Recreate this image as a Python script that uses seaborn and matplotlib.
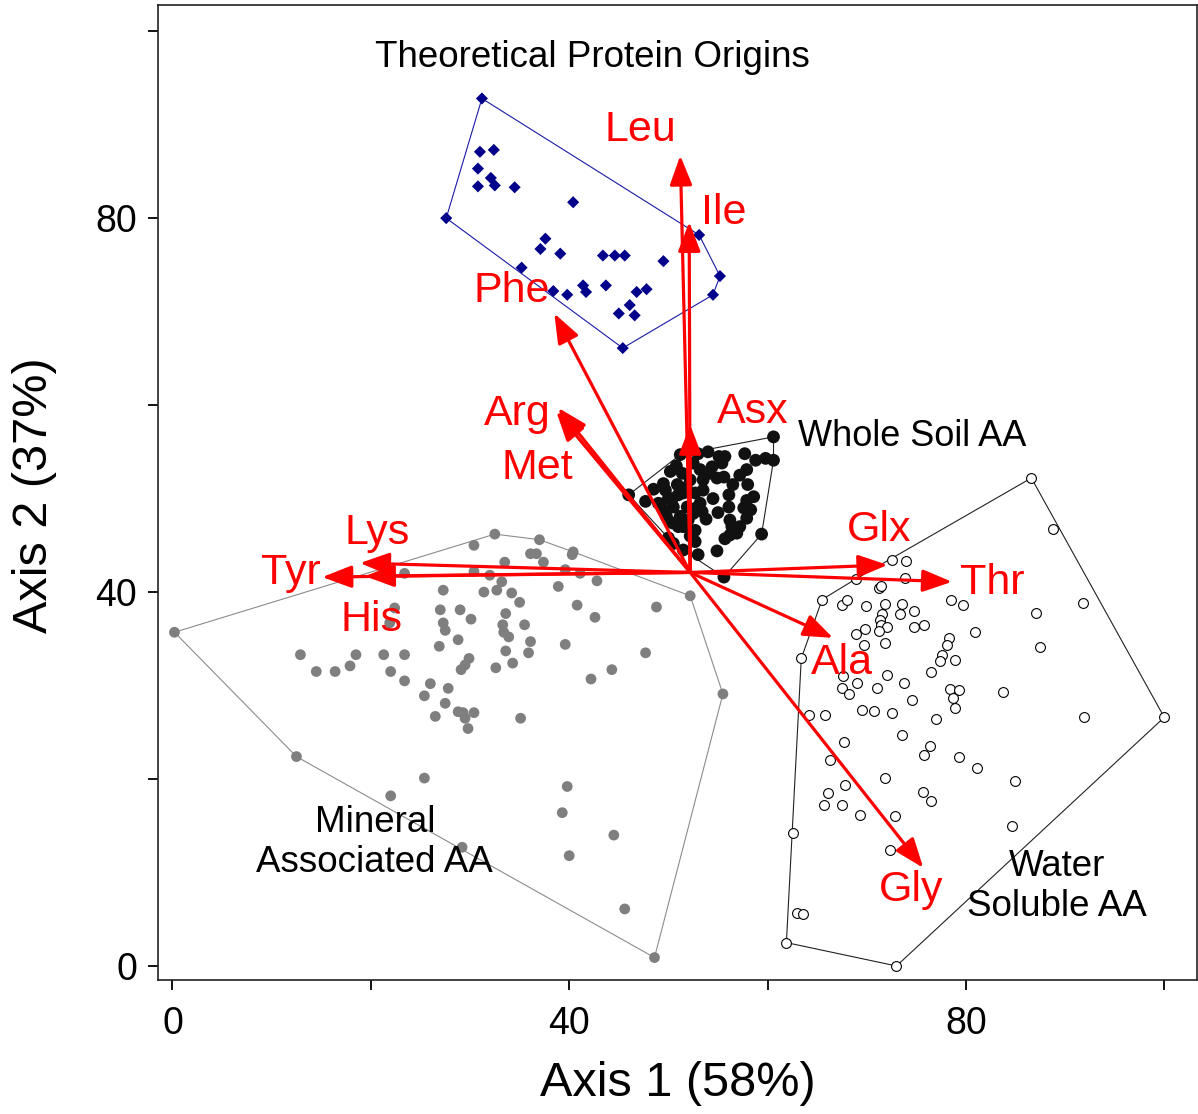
import matplotlib
matplotlib.use("Agg")
import matplotlib.pyplot as plt
import numpy as np
import pandas as pd
import seaborn as sns

# ---- sample scores on ordination axes 1 and 2 ----
theo_x = [31.2, 31.0, 32.4, 30.8, 30.8, 32.1, 32.5, 34.5, 40.4, 27.6, 37.6, 37.1, 39.1, 43.4,
          44.6, 45.6, 49.5, 53.1, 55.2, 54.5, 35.2, 38.4, 39.8, 41.4, 41.7, 43.7, 46.8, 47.8,
          46.1, 45.0, 46.6, 45.4]
theo_y = [92.8, 87.1, 87.3, 85.3, 83.4, 84.3, 83.5, 83.3, 81.7, 80.0, 77.8, 76.7, 76.2, 76.0,
          76.0, 76.0, 75.4, 78.2, 73.8, 71.8, 74.7, 72.2, 71.8, 72.8, 72.1, 72.8, 72.1, 72.4,
          70.7, 69.8, 69.6, 66.1]

soil_x = [51.2, 53.0, 55.1, 55.7, 57.7, 58.8, 59.8, 60.6, 60.6, 50.2, 51.4, 53.2, 54.4, 55.4,
          57.2, 57.9, 49.5, 50.9, 52.2, 53.5, 54.9, 55.6, 46.0, 47.7, 50.4, 51.5, 52.7, 53.5,
          56.1, 57.9, 58.6, 49.5, 50.5, 51.9, 53.2, 56.1, 57.6, 58.3, 49.8, 51.2, 52.5, 53.4,
          56.2, 57.9, 50.4, 51.5, 52.7, 56.4, 57.2, 56.2, 56.9, 59.4, 50.5, 52.7, 55.7, 54.9,
          55.6, 51.0, 49.7, 52.0, 54.1, 52.5, 50.0,
          50.8, 51.8, 52.8, 51.0, 52.2, 53.8, 54.5, 49.0, 48.5, 51.5, 53.0, 55.0, 54.0, 56.5,
          58.0, 50.0]
soil_y = [54.7, 54.8, 54.5, 54.5, 54.8, 54.1, 54.3, 54.1, 56.6, 52.9, 52.7, 53.1, 53.4, 53.8,
          52.5, 53.1, 51.6, 51.5, 52.0, 52.0, 52.2, 52.3, 50.4, 49.7, 50.0, 50.6, 50.6, 50.9,
          50.4, 49.8, 50.2, 48.8, 49.1, 49.1, 49.5, 49.1, 49.0, 48.8, 48.1, 48.1, 48.4, 48.6,
          47.7, 47.9, 47.4, 47.0, 46.6, 47.0, 47.0, 46.1, 46.3, 46.2, 45.2, 45.4, 45.7, 44.4,
          41.6, 50.4, 50.9, 47.7, 52.7, 53.8, 50.0,
          53.5, 51.2, 49.0, 47.0, 46.0, 47.8, 50.0, 49.5, 51.0, 44.5, 44.0, 48.5, 55.0, 51.5,
          51.5, 45.8]

mineral_x = [0.2, 12.5, 12.9, 14.5, 16.4, 17.9, 18.5, 21.3, 23.4, 22.0, 23.4, 22.4, 21.9, 23.4,
             27.3, 27.0, 27.3, 27.5, 26.9, 29.0, 28.8, 26.0, 27.8, 25.4, 27.5, 26.5, 28.8,
             32.5, 37.0, 30.4, 40.4, 40.3, 36.1, 36.7, 37.4, 33.5, 30.4, 32.0, 41.1, 42.8,
             39.6, 33.2, 32.7, 31.4, 34.2, 35.0, 38.9, 40.8, 48.8, 52.2, 30.1, 33.6, 42.6,
             33.3, 33.4, 33.9, 35.5, 36.1, 35.9, 33.6, 34.3, 39.6, 47.7, 29.9, 29.5, 29.1,
             32.6, 44.3, 42.2, 29.3, 30.4, 29.8, 29.5, 35.1, 55.5,
             25.4, 22.0, 29.2, 39.8, 39.3, 44.5, 40.0, 45.6, 48.6]
mineral_y = [35.7, 22.4, 33.3, 31.5, 31.5, 32.1, 33.3, 33.3, 33.3, 31.5, 30.5, 38.3, 36.7, 42.0,
             40.2, 38.1, 36.7, 35.9, 34.2, 38.1, 34.9, 30.2, 29.7, 28.9, 28.1, 26.7, 27.2,
             46.2, 45.6, 45.0, 44.3, 44.0, 44.1, 44.1, 43.2, 43.2, 42.2, 41.8, 42.0, 41.2,
             42.4, 41.1, 40.2, 40.0, 39.9, 38.9, 40.6, 38.6, 38.4, 39.6, 37.1, 37.7, 37.3,
             36.5, 35.7, 35.2, 36.5, 34.7, 33.5, 33.7, 32.4, 34.4, 33.5, 32.9, 32.2, 31.7,
             31.9, 31.7, 30.7, 27.1, 27.1, 25.4, 26.5, 26.5, 29.1,
             20.1, 18.2, 12.7, 19.2, 16.4, 14.0, 11.8, 6.1, 0.9]

water_x = [86.6, 88.8, 91.8, 100.0, 91.9, 87.1, 87.5, 83.7, 72.5, 74.0, 68.9, 73.9, 71.2, 71.4,
           65.5, 67.5, 68.0, 69.9, 71.8, 73.6, 73.4, 74.8, 78.5, 79.7, 71.5, 71.3, 71.4, 72.0,
           69.8, 68.9, 71.2, 74.8, 75.8, 80.9, 78.3, 78.1, 69.7, 71.8, 77.6, 77.4, 78.9, 76.5,
           63.4, 67.6, 69.0, 72.0, 73.8, 67.5, 68.2, 71.0, 78.4, 79.3, 78.7, 78.9, 74.6, 69.5,
           70.7, 72.5, 64.2, 65.8, 77.0, 67.7, 73.6, 76.4, 75.8, 79.3, 81.1, 66.3, 71.8, 84.9,
           67.8, 66.1, 65.7, 67.5, 69.3, 75.7, 76.5, 72.9, 84.6, 72.3, 62.6, 63.0, 63.6, 61.9,
           73.0]
water_y = [52.2, 46.7, 38.8, 26.6, 26.6, 37.8, 34.1, 29.3, 43.4, 43.3, 41.4, 41.5, 40.4, 40.6,
           39.2, 38.6, 39.1, 38.5, 38.7, 38.7, 37.6, 38.0, 39.1, 38.6, 37.7, 37.0, 36.5, 36.3,
           36.1, 35.5, 35.8, 36.3, 36.5, 35.7, 35.1, 34.3, 34.3, 34.5, 33.3, 32.6, 32.7, 31.5,
           32.9, 31.0, 30.3, 31.1, 30.3, 29.7, 29.1, 29.7, 29.6, 29.5, 28.7, 27.6, 28.5, 27.4,
           27.3, 27.1, 26.9, 26.9, 26.4, 24.0, 24.7, 23.5, 22.6, 22.4, 21.2, 22.0, 20.1, 19.8,
           19.4, 18.5, 17.2, 17.2, 16.2, 18.6, 17.7, 16.0, 15.0, 12.4, 14.2, 5.7, 5.6, 2.5,
           0.0]

# ---- amino acid vectors (tips), drawn from the common origin ----
origin_xy = (52.2, 42.1)
aa_names = ["Leu", "Ile", "Asx", "Phe", "Arg", "Met", "Lys", "Tyr", "His", "Glx", "Thr", "Ala", "Gly"]
aa_x = [51.2, 52.1, 52.2, 38.5, 38.9, 38.7, 18.9, 15.1, 19.4, 72.1, 78.6, 66.6, 75.7]
aa_y = [86.7, 79.6, 57.9, 69.8, 59.7, 59.3, 43.1, 41.6, 41.7, 42.9, 41.1, 35.1, 10.5]


def convex_hull(xs, ys):
    pts = sorted(set(zip(xs, ys)))

    def cross(o, a, b):
        return (a[0] - o[0]) * (b[1] - o[1]) - (a[1] - o[1]) * (b[0] - o[0])

    lower, upper = [], []
    for p in pts:
        while len(lower) >= 2 and cross(lower[-2], lower[-1], p) <= 0:
            lower.pop()
        lower.append(p)
    for p in reversed(pts):
        while len(upper) >= 2 and cross(upper[-2], upper[-1], p) <= 0:
            upper.pop()
        upper.append(p)
    h = lower[:-1] + upper[:-1]
    h.append(h[0])
    return [p[0] for p in h], [p[1] for p in h]


sns.set_style("ticks")
plt.rcParams["font.family"] = ["Liberation Sans", "DejaVu Sans"]
plt.rcParams["text.color"] = "black"
plt.rcParams["axes.labelcolor"] = "black"
plt.rcParams["xtick.color"] = "black"
plt.rcParams["ytick.color"] = "black"

fig = plt.figure(figsize=(11.98, 11.14), dpi=100)
ax = fig.add_axes([158 / 1198, 1 - 980 / 1114, 1039 / 1198, 975 / 1114])

groups = pd.concat([
    pd.DataFrame({"a1": theo_x, "a2": theo_y, "grp": "theo"}),
    pd.DataFrame({"a1": soil_x, "a2": soil_y, "grp": "soil"}),
    pd.DataFrame({"a1": mineral_x, "a2": mineral_y, "grp": "mineral"}),
    pd.DataFrame({"a1": water_x, "a2": water_y, "grp": "water"}),
], ignore_index=True)

hull_colors = {"theo": "#1a1aa6", "soil": "#222222", "mineral": "#8c8c8c", "water": "#222222"}
for g, sub in groups.groupby("grp"):
    hx, hy = convex_hull(sub["a1"].tolist(), sub["a2"].tolist())
    ax.plot(hx, hy, color=hull_colors[g], lw=0.8, zorder=1)

sns.scatterplot(data=groups[groups.grp == "mineral"], x="a1", y="a2", ax=ax,
                color="#7f7f7f", s=60, edgecolor="none", zorder=2, legend=False)
sns.scatterplot(data=groups[groups.grp == "water"], x="a1", y="a2", ax=ax,
                facecolor="white", edgecolor="black", linewidth=0.8, s=50, zorder=2, legend=False)
sns.scatterplot(data=groups[groups.grp == "soil"], x="a1", y="a2", ax=ax,
                color="#111111", s=85, edgecolor="none", zorder=2, legend=False)
sns.scatterplot(data=groups[groups.grp == "theo"], x="a1", y="a2", ax=ax, marker="D",
                color="#00008b", s=38, edgecolor="none", zorder=2, legend=False)

for name, tx, ty in zip(aa_names, aa_x, aa_y):
    ax.annotate("", xy=(tx, ty), xytext=origin_xy,
                arrowprops=dict(arrowstyle="-|>,head_length=1.0,head_width=0.38",
                                mutation_scale=18, color="#ff0000", lw=2.3,
                                shrinkA=0, shrinkB=0), zorder=5)

label_pos = {
    "Leu": (47.2, 89.4), "Ile": (55.6, 80.5), "Phe": (34.2, 72.2), "Arg": (34.8, 59.1),
    "Met": (36.8, 53.3), "Asx": (58.5, 59.3), "Lys": (20.6, 46.3), "Tyr": (11.9, 42.0),
    "His": (20.1, 37.0), "Glx": (71.2, 46.6), "Thr": (82.7, 41.0), "Ala": (67.5, 32.4),
    "Gly": (74.5, 8.1),
}
for name in aa_names:
    lx, ly = label_pos[name]
    ax.text(lx, ly, name, color="#ff0000", fontsize=31, ha="center", va="center", zorder=6)

ax.text(42.3, 97.2, "Theoretical Protein Origins", fontsize=26.5, ha="center", va="center")
ax.text(63.1, 56.6, "Whole Soil AA", fontsize=26, ha="left", va="center")
ax.text(20.4, 13.2, "Mineral\nAssociated AA", fontsize=26.5, ha="center", va="center",
        multialignment="center", linespacing=1.2)
ax.text(89.2, 8.5, "Water\nSoluble AA", fontsize=26.5, ha="center", va="center",
        multialignment="center", linespacing=1.2)

ax.set_xlim(-1.46, 103.3)
ax.set_ylim(-1.5, 102.8)
ax.set_xticks(range(0, 101, 20))
ax.set_xticklabels(["0", "", "40", "", "80", ""])
ax.set_yticks(range(0, 101, 20))
ax.set_yticklabels(["0", "", "40", "", "80", ""])
ax.tick_params(axis="both", direction="out", length=7, width=1.3, labelsize=27,
               color="black", labelcolor="black")
ax.tick_params(axis="x", pad=12)
ax.tick_params(axis="y", pad=8)
for sp in ax.spines.values():
    sp.set_visible(True)
    sp.set_color("#222222")
    sp.set_linewidth(1.2)

ax.set_xlabel("Axis 1 (58%)", fontsize=35, color="black")
ax.set_ylabel("Axis 2 (37%)", fontsize=35, color="black")
ax.xaxis.set_label_coords(0.5, -0.083)
ax.yaxis.set_label_coords(-0.097, 0.497)

fig.savefig("out.png", dpi=100)
